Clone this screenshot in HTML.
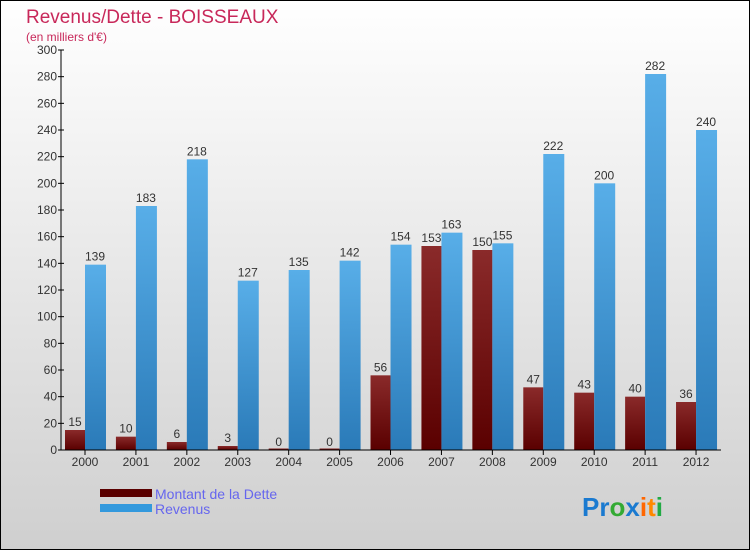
<!DOCTYPE html>
<html><head><meta charset="utf-8"><style>
body{margin:0}
svg{display:block;font-family:"Liberation Sans",sans-serif}
</style></head><body>
<svg width="750" height="550" viewBox="0 0 750 550">
<defs>
<linearGradient id="bg" x1="0" y1="0" x2="0" y2="1"><stop offset="0" stop-color="#ffffff"/><stop offset="1" stop-color="#cfcfcf"/></linearGradient>
<linearGradient id="gd" x1="0" y1="0" x2="0" y2="1"><stop offset="0" stop-color="#8a2a2a"/><stop offset="1" stop-color="#5a0000"/></linearGradient>
<linearGradient id="gr" x1="0" y1="0" x2="0" y2="1"><stop offset="0" stop-color="#58aee8"/><stop offset="1" stop-color="#2a7ab8"/></linearGradient>
</defs>
<rect x="0.5" y="0.5" width="749" height="549" fill="url(#bg)" stroke="#000"/>
<text x="26" y="23" font-size="19" fill="#c8285a">Revenus/Dette - BOISSEAUX</text>
<text x="26" y="41" font-size="12" fill="#c8285a">(en milliers d'€)</text>
<g id="plot"></g>
<g>
<rect x="100" y="489" width="52" height="8" fill="#5a0000"/>
<text x="155" y="499" font-size="14" fill="#6666ee">Montant de la Dette</text>
<rect x="100" y="504" width="52" height="8" fill="#3399dd"/>
<text x="155" y="514" font-size="14" fill="#6666ee">Revenus</text>
</g>
<g font-size="26" font-weight="bold">
<text x="582" y="516"><tspan fill="#1a7ad0">Pr</tspan><tspan fill="#33aa33">o</tspan><tspan fill="#1a7ad0">x</tspan><tspan fill="#ff6600">i</tspan><tspan fill="#ff8800">t</tspan><tspan fill="#22aa44">i</tspan></text>
</g>
</svg>
<script>
const years=["2000","2001","2002","2003","2004","2005","2006","2007","2008","2009","2010","2011","2012"];
const dette=[15,10,6,3,0,0,56,153,150,47,43,40,36];
const revenus=[139,183,218,127,135,142,154,163,155,222,200,282,240];
const yTicks=[0,20,40,60,80,100,120,140,160,180,200,220,240,260,280,300];
const NS="http://www.w3.org/2000/svg";
const g=document.getElementById('plot');
const y=v=>450-v*400/300;
const xc=i=>85+i*50.92;
function el(t,a,p){const e=document.createElementNS(NS,t);for(const k in a)e.setAttribute(k,a[k]);(p||g).appendChild(e);return e;}
yTicks.forEach(v=>{
 const l=el('line',{x1:58,x2:64,y1:y(v),y2:y(v),stroke:'#000'});
 
 
 const t=el('text',{x:57,y:y(v)+4,'text-anchor':'end','font-size':12,fill:'#333'});
 t.textContent=v;
 
 
});
years.forEach((yr,i)=>{
 const c=xc(i);
 const hd=Math.max(dette[i]*400/300,1.5);
 const b1=el('rect',{x:c-20,y:450-hd,width:20,height:hd,fill:'url(#gd)'});
 
 
 const hr=revenus[i]*400/300;
 const b2=el('rect',{x:c,y:450-hr,width:21,height:hr,fill:'url(#gr)'});
 
 
 const t1=el('text',{x:c-10,y:y(dette[i])-4,'text-anchor':'middle','font-size':12,fill:'#333'});
 t1.textContent=dette[i];
 
 
 const t2=el('text',{x:c+10,y:y(revenus[i])-4,'text-anchor':'middle','font-size':12,fill:'#333'});
 t2.textContent=revenus[i];
 
 
 const tl=el('line',{x1:c,x2:c,y1:450,y2:455,stroke:'#000'});
 
 
 const xl=el('text',{x:c,y:466,'text-anchor':'middle','font-size':12,fill:'#333'});
 xl.textContent=yr;
 
 
});
const ya=el('line',{x1:61,x2:61,y1:50,y2:450,stroke:'#000'});


const xa=el('line',{x1:61,x2:721,y1:450,y2:450,stroke:'#000'});


</script>
</body></html>
